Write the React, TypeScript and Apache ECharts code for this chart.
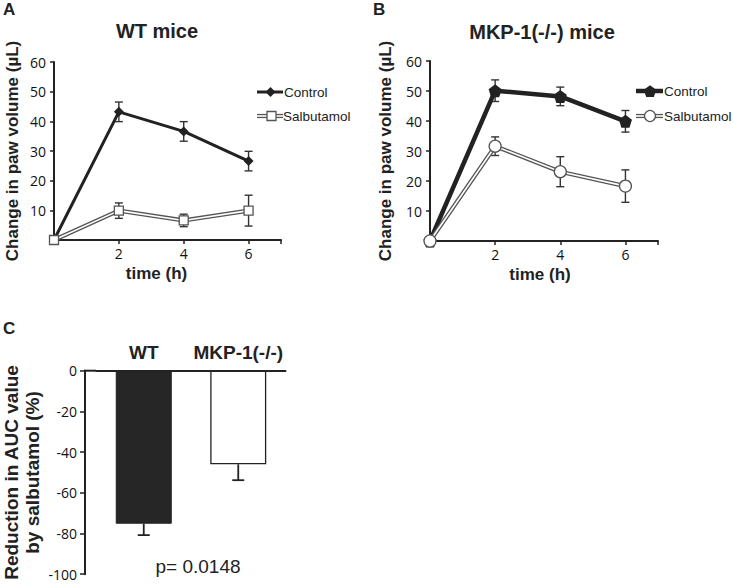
import React, { useEffect, useRef } from 'react';
import * as echarts from 'echarts';

const timePoints = [0, 2, 4, 6];
const timeTickLabels = [2, 4, 6];
const wtControl = [0, 43.2, 36.6, 26.6];
const wtControlErr = [0, 3.3, 3.3, 3.3];
const wtSalbutamol = [0, 9.9, 6.6, 9.9];
const wtSalbutamolErr = [0, 2.6, 2.1, 5.2];
const koControl = [0, 50.1, 48.2, 39.9];
const koControlErr = [0, 3.6, 3.1, 3.6];
const koSalbutamol = [0, 31.6, 23.1, 18.3];
const koSalbutamolErr = [0, 3.1, 5.0, 5.4];
const aucGroups = ['WT', 'MKP-1(-/-)'];
const aucReduction = [-75.2, -46.0];
const aucErr = [5.6, 7.8];

const INK = '#222';
const GRAY = '#555';
const TICK_FONT = 'Open Sans';
const HEAD_FONT = 'Liberation Sans';

const pairs = (vals: number[]) => timePoints.map((t, i) => [t, vals[i]]);

const errSeries = (idx: number, vals: number[], errs: number[], color: string, capW: number) => ({
  type: 'custom',
  xAxisIndex: idx,
  yAxisIndex: idx,
  z: 1,
  silent: true,
  encode: { x: 0, y: 1 },
  data: timePoints.map((t, i) => [t, vals[i], errs[i]]).filter((d) => d[2] > 0),
  renderItem: (_p: any, api: any) => {
    const x = api.value(0);
    const y = api.value(1);
    const e = api.value(2);
    const top = api.coord([x, y + e]);
    const bot = api.coord([x, y - e]);
    const style = { stroke: color, lineWidth: 1.4 };
    return {
      type: 'group',
      children: [
        { type: 'line', shape: { x1: top[0], y1: top[1], x2: bot[0], y2: bot[1] }, style },
        { type: 'line', shape: { x1: top[0] - capW / 2, y1: top[1], x2: top[0] + capW / 2, y2: top[1] }, style },
        { type: 'line', shape: { x1: bot[0] - capW / 2, y1: bot[1], x2: bot[0] + capW / 2, y2: bot[1] }, style },
      ],
    };
  },
});

const timeXAxis = (idx: number, pad: number) => ({
  gridIndex: idx,
  type: 'value',
  min: 0,
  max: 7,
  interval: 2,
  axisLine: { lineStyle: { color: INK, width: 2 } },
  axisTick: { show: true, length: 4, lineStyle: { color: INK, width: 1.5 } },
  axisLabel: {
    formatter: (v: number) => (timeTickLabels.includes(v) ? String(v) : ''),
    fontSize: 14,
    fontFamily: TICK_FONT,
    color: '#111',
    margin: 6,
  },
  splitLine: { show: false },
  name: 'time (h)',
  nameLocation: 'middle',
  nameGap: 25,
  nameTextStyle: { fontWeight: 'bold', fontSize: 17, fontFamily: HEAD_FONT, color: INK, padding: [0, pad, 0, 0] },
});

const volYAxis = (idx: number, gap: number) => ({
  gridIndex: idx,
  type: 'value',
  min: 0,
  max: 60,
  interval: 10,
  axisLine: { show: true, lineStyle: { color: INK, width: 2 } },
  axisTick: { show: true, length: 4, lineStyle: { color: INK, width: 1.5 } },
  axisLabel: {
    formatter: (v: number) => (v === 0 ? '' : String(v)),
    fontSize: 14,
    fontFamily: TICK_FONT,
    color: '#111',
    margin: 8,
  },
  splitLine: { show: false },
  name: 'Change in paw volume (µL)',
  nameLocation: 'middle',
  nameGap: gap,
  nameTextStyle: { fontWeight: 'bold', fontSize: 17, fontFamily: HEAD_FONT, color: INK },
});

const doubleLine = (idx: number, vals: number[], symbol: string, size: number) => [
  {
    type: 'line',
    xAxisIndex: idx,
    yAxisIndex: idx,
    z: 3,
    clip: false,
    data: pairs(vals),
    showSymbol: false,
    lineStyle: { color: GRAY, width: 4.2 },
    silent: true,
  },
  {
    type: 'line',
    name: 'Salbutamol',
    xAxisIndex: idx,
    yAxisIndex: idx,
    z: 4,
    clip: false,
    data: pairs(vals),
    symbol,
    symbolSize: size,
    lineStyle: { color: '#fff', width: 1.6 },
    itemStyle: { color: '#fff', borderColor: GRAY, borderWidth: 1.3 },
  },
];

const pentagon = 'path://M0,-10 L9.5,-3.1 L5.9,8.1 L-5.9,8.1 L-9.5,-3.1 Z';

const pentPoints = (cx: number, cy: number, r: number) =>
  [0, 1, 2, 3, 4].map((k) => {
    const a = -Math.PI / 2 + (k * 2 * Math.PI) / 5;
    return [cx + r * Math.cos(a), cy + r * Math.sin(a) + 0.8];
  });

const txt = (text: string, x: number, y: number, font: string, align = 'left', fill = INK) => ({
  type: 'text',
  x,
  y,
  style: { text, font, fill, textAlign: align, textVerticalAlign: 'middle' },
  silent: true,
});

const legendDouble = (x1: number, x2: number, y: number) => [
  { type: 'line', shape: { x1, y1: y, x2, y2: y }, style: { stroke: GRAY, lineWidth: 4.2 }, silent: true },
  { type: 'line', shape: { x1, y1: y, x2, y2: y }, style: { stroke: '#fff', lineWidth: 1.6 }, silent: true },
];

export default function App() {
  const ref = useRef<HTMLDivElement>(null);
  useEffect(() => {
    if (!ref.current) return;
    const chart = echarts.init(ref.current, undefined, { renderer: 'svg' });
    const option: any = {
      animation: false,
      backgroundColor: '#fff',
      grid: [
        { left: 54, top: 62, width: 227, height: 178 },
        { left: 430, top: 61, width: 228, height: 180 },
        { left: 95.5, top: 370.7, width: 190, height: 203.5 },
      ],
      xAxis: [
        timeXAxis(0, 22),
        timeXAxis(1, 8),
        {
          gridIndex: 2,
          type: 'category',
          data: aucGroups,
          position: 'top',
          axisLine: { lineStyle: { color: INK, width: 2 } },
          axisTick: { show: false },
          axisLabel: { interval: 0, fontSize: 19, fontWeight: 'bold', fontFamily: HEAD_FONT, color: INK, margin: 9 },
        },
      ],
      yAxis: [
        volYAxis(0, 33),
        volYAxis(1, 36),
        {
          gridIndex: 2,
          type: 'value',
          min: -100,
          max: 0,
          interval: 20,
          offset: 11.5,
          axisLine: { show: true, lineStyle: { color: INK, width: 2 } },
          axisTick: { show: true, length: 5, lineStyle: { color: INK, width: 1.5 } },
          axisLabel: { fontSize: 14, lineHeight: 14, fontFamily: TICK_FONT, color: '#111', margin: 8 },
          splitLine: { show: false },
          name: 'Reduction in AUC value\nby salbutamol (%)',
          nameLocation: 'middle',
          nameGap: 42,
          nameTextStyle: { fontWeight: 'bold', fontSize: 19, lineHeight: 21, fontFamily: HEAD_FONT, color: INK },
        },
      ],
      series: [
        errSeries(0, wtControl, wtControlErr, '#333', 8),
        errSeries(0, wtSalbutamol, wtSalbutamolErr, '#333', 8),
        {
          type: 'line',
          name: 'Control',
          xAxisIndex: 0,
          yAxisIndex: 0,
          z: 2,
          clip: false,
          data: pairs(wtControl),
          symbol: 'diamond',
          symbolSize: 10,
          lineStyle: { color: INK, width: 3 },
          itemStyle: { color: INK },
        },
        ...doubleLine(0, wtSalbutamol, 'rect', 9),
        errSeries(1, koControl, koControlErr, '#333', 8),
        errSeries(1, koSalbutamol, koSalbutamolErr, '#333', 8),
        {
          type: 'line',
          name: 'Control',
          xAxisIndex: 1,
          yAxisIndex: 1,
          z: 2,
          clip: false,
          data: pairs(koControl),
          symbol: pentagon,
          symbolSize: 13,
          lineStyle: { color: INK, width: 4.5 },
          itemStyle: { color: INK },
        },
        ...doubleLine(1, koSalbutamol, 'circle', 12),
        {
          type: 'bar',
          xAxisIndex: 2,
          yAxisIndex: 2,
          barWidth: 56,
          z: 2,
          data: aucReduction.map((v, i) => ({
            value: v,
            itemStyle:
              i === 0
                ? { color: '#262626', borderColor: INK, borderWidth: 1 }
                : { color: '#fff', borderColor: INK, borderWidth: 1.3 },
          })),
        },
        {
          type: 'custom',
          xAxisIndex: 2,
          yAxisIndex: 2,
          z: 3,
          silent: true,
          data: aucReduction.map((v, i) => [i, v, aucErr[i]]),
          renderItem: (_p: any, api: any) => {
            const i = api.value(0);
            const v = api.value(1);
            const e = api.value(2);
            const a = api.coord([i, v]);
            const b = api.coord([i, v - e]);
            const style = { stroke: INK, lineWidth: 1.8 };
            return {
              type: 'group',
              children: [
                { type: 'line', shape: { x1: a[0], y1: a[1], x2: b[0], y2: b[1] }, style },
                { type: 'line', shape: { x1: b[0] - 6, y1: b[1], x2: b[0] + 6, y2: b[1] }, style },
              ],
            };
          },
        },
      ],
      graphic: [
        txt('A', 3, 9, 'bold 17px "Liberation Sans"'),
        txt('B', 373, 9, 'bold 17px "Liberation Sans"'),
        txt('C', 3, 328, 'bold 17px "Liberation Sans"'),
        txt('WT mice', 157, 31, 'bold 20px "Liberation Sans"', 'center'),
        txt('MKP-1(-/-) mice', 542, 32, 'bold 20px "Liberation Sans"', 'center'),
        txt('p= 0.0148', 198, 566, '19px "Liberation Sans"', 'center'),
        { type: 'line', shape: { x1: 84, y1: 370.7, x2: 96, y2: 370.7 }, style: { stroke: INK, lineWidth: 2 }, silent: true },
        // legend A
        { type: 'line', shape: { x1: 257, y1: 92, x2: 283, y2: 92 }, style: { stroke: INK, lineWidth: 3 }, silent: true },
        { type: 'polygon', shape: { points: [[270.5, 87], [275.5, 92], [270.5, 97], [265.5, 92]] }, style: { fill: INK }, silent: true },
        txt('Control', 284, 92, '13.5px "Liberation Sans"'),
        ...legendDouble(257, 283, 116),
        { type: 'rect', shape: { x: 267, y: 111.5, width: 9, height: 9 }, style: { fill: '#fff', stroke: GRAY, lineWidth: 1.3 }, silent: true },
        txt('Salbutamol', 283, 116, '13.5px "Liberation Sans"'),
        // legend B
        { type: 'line', shape: { x1: 636, y1: 91, x2: 663, y2: 91 }, style: { stroke: INK, lineWidth: 4.5 }, silent: true },
        { type: 'polygon', shape: { points: pentPoints(650, 91, 6.5) }, style: { fill: INK }, silent: true },
        txt('Control', 664, 91, '13.5px "Liberation Sans"'),
        ...legendDouble(636, 663, 116),
        { type: 'circle', shape: { cx: 650, cy: 116, r: 5.5 }, style: { fill: '#fff', stroke: GRAY, lineWidth: 1.3 }, silent: true },
        txt('Salbutamol', 664, 116, '13.5px "Liberation Sans"'),
      ],
    };
    chart.setOption(option);
    return () => chart.dispose();
  }, []);
  return <div ref={ref} style={{ position: 'absolute', left: 0, top: 0, width: 733, height: 584 }} />;
}
